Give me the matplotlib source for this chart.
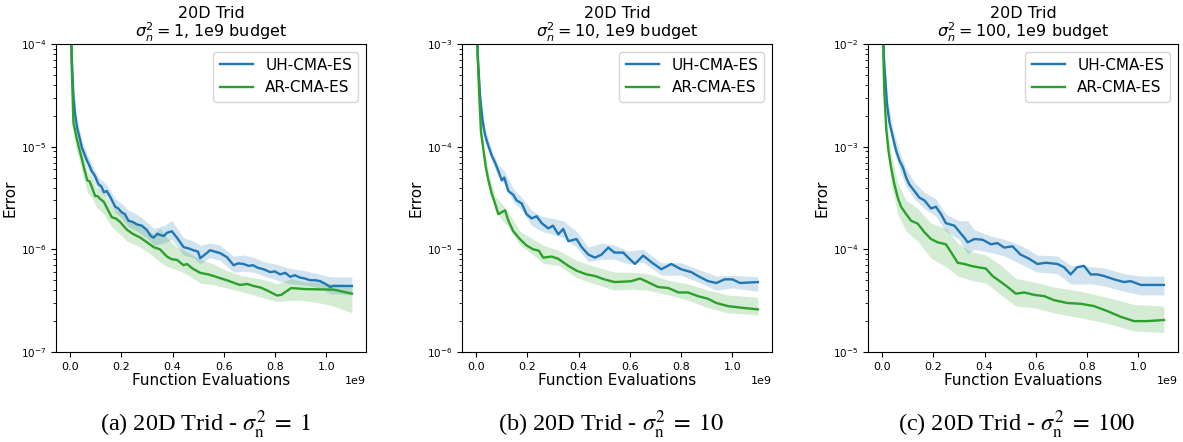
import matplotlib
matplotlib.use("Agg")
import matplotlib.pyplot as plt

# ---- data (x in units of 1e9 function evaluations) ----
noise_levels = ["1", "10", "100"]
caption_tags = ["(a)", "(b)", "(c)"]
y_limits = [(1e-7, 1e-4), (1e-6, 1e-3), (1e-5, 1e-2)]

# panel (a): sigma^2 = 1
uh1_x = [0.0, 0.006, 0.013, 0.019, 0.028, 0.038, 0.046, 0.056, 0.065, 0.076, 0.084, 0.097,
         0.111, 0.122, 0.132, 0.143, 0.158, 0.176, 0.188, 0.201, 0.214, 0.228, 0.244, 0.261,
         0.28, 0.299, 0.315, 0.326, 0.341, 0.351, 0.366, 0.378, 0.397, 0.417, 0.443, 0.463,
         0.481, 0.499, 0.508, 0.529, 0.546, 0.565, 0.585, 0.612, 0.638, 0.656, 0.677, 0.697,
         0.715, 0.733, 0.755, 0.781, 0.799, 0.82, 0.84, 0.859, 0.877, 0.898, 0.916, 0.937,
         0.957, 0.976, 0.997, 1.015, 1.028, 1.1]
uh1_y = [1e-3, 8e-5, 3.1e-5, 2.1e-5, 1.5e-5, 1.2e-5, 9.8e-6, 8.5e-6, 7.4e-6, 6.5e-6, 5.8e-6, 5.2e-6,
         4.3e-6, 4.1e-6, 3.6e-6, 3.7e-6, 3.2e-6, 2.6e-6, 2.5e-6, 2.3e-6, 2.2e-6, 1.9e-6, 1.85e-6, 1.75e-6,
         1.7e-6, 1.55e-6, 1.35e-6, 1.3e-6, 1.42e-6, 1.38e-6, 1.35e-6, 1.45e-6, 1.5e-6, 1.3e-6, 1.05e-6, 1.02e-6,
         9.8e-7, 9.5e-7, 8.2e-7, 9.0e-7, 9.8e-7, 9.5e-7, 9.2e-7, 8.4e-7, 7.0e-7, 7.3e-7, 7.2e-7, 6.9e-7,
         7.0e-7, 6.6e-7, 6.4e-7, 6.0e-7, 6.1e-7, 5.7e-7, 5.9e-7, 5.4e-7, 5.6e-7, 5.3e-7, 5.2e-7, 5.0e-7,
         5.0e-7, 4.9e-7, 4.6e-7, 4.3e-7, 4.4e-7, 4.4e-7]
uh1_band_x = [0.0, 0.006, 0.013, 0.028, 0.046, 0.065, 0.084, 0.111, 0.143, 0.176, 0.201, 0.228,
              0.261, 0.299, 0.326, 0.366, 0.397, 0.443, 0.481, 0.508, 0.546, 0.585, 0.638, 0.677,
              0.715, 0.755, 0.82, 0.859, 0.916, 0.976, 1.015, 1.1]
uh1_lo = [8e-4, 6.5e-5, 2.6e-5, 1.3e-5, 8.5e-6, 6.4e-6, 5.0e-6, 3.8e-6, 3.2e-6, 2.3e-6, 2.0e-6, 1.65e-6,
          1.5e-6, 1.3e-6, 1.1e-6, 1.15e-6, 1.25e-6, 8.8e-7, 8.3e-7, 7.2e-7, 8.3e-7, 7.8e-7, 6.0e-7, 6.1e-7,
          6.0e-7, 5.5e-7, 4.9e-7, 4.6e-7, 4.5e-7, 4.2e-7, 3.7e-7, 3.6e-7]
uh1_hi = [1.2e-3, 1e-4, 3.8e-5, 1.8e-5, 1.15e-5, 8.6e-6, 6.8e-6, 5.0e-6, 4.3e-6, 3.1e-6, 2.8e-6, 2.4e-6,
          2.2e-6, 1.85e-6, 1.6e-6, 1.7e-6, 1.9e-6, 1.3e-6, 1.2e-6, 1.1e-6, 1.15e-6, 1.1e-6, 8.6e-7, 8.8e-7,
          8.4e-7, 7.6e-7, 7.0e-7, 6.5e-7, 6.2e-7, 5.7e-7, 5.4e-7, 5.4e-7]

ar1_x = [0.0, 0.006, 0.013, 0.026, 0.036, 0.046, 0.056, 0.067, 0.076, 0.084, 0.098, 0.107,
         0.117, 0.132, 0.143, 0.163, 0.178, 0.195, 0.222, 0.244, 0.274, 0.305, 0.326, 0.351,
         0.378, 0.397, 0.417, 0.443, 0.456, 0.478, 0.508, 0.539, 0.56, 0.59, 0.612, 0.641,
         0.663, 0.692, 0.715, 0.743, 0.767, 0.808, 0.824, 0.863, 0.916, 1.028, 1.1]
ar1_y = [8e-4, 6.5e-5, 1.7e-5, 1.2e-5, 9.5e-6, 7.6e-6, 6.0e-6, 4.7e-6, 4.6e-6, 4.1e-6, 3.3e-6, 3.3e-6,
         3.1e-6, 2.9e-6, 2.55e-6, 2.05e-6, 2.0e-6, 1.85e-6, 1.55e-6, 1.42e-6, 1.3e-6, 1.15e-6, 1.05e-6, 1.0e-6,
         8.5e-7, 8.0e-7, 7.9e-7, 7.0e-7, 7.2e-7, 6.5e-7, 5.9e-7, 5.7e-7, 5.5e-7, 5.2e-7, 5.0e-7, 4.7e-7,
         4.5e-7, 4.6e-7, 4.4e-7, 4.25e-7, 4.0e-7, 3.55e-7, 3.6e-7, 4.2e-7, 4.1e-7, 4.05e-7, 3.7e-7]
ar1_band_x = [0.0, 0.006, 0.013, 0.026, 0.046, 0.067, 0.084, 0.102, 0.132, 0.163, 0.195, 0.222,
              0.274, 0.326, 0.351, 0.378, 0.417, 0.456, 0.508, 0.56, 0.612, 0.663, 0.715, 0.767,
              0.808, 0.863, 0.916, 0.977, 1.028, 1.1]
ar1_lo = [6e-4, 5e-5, 1.3e-5, 9.0e-6, 5.8e-6, 3.6e-6, 3.2e-6, 2.6e-6, 2.2e-6, 1.65e-6, 1.4e-6, 1.2e-6,
          1.05e-6, 8.5e-7, 7.5e-7, 6.8e-7, 6.3e-7, 5.7e-7, 4.7e-7, 4.5e-7, 4.2e-7, 3.9e-7, 3.6e-7, 3.3e-7,
          3.1e-7, 3.2e-7, 3.15e-7, 3.0e-7, 2.8e-7, 2.4e-7]
ar1_hi = [1e-3, 8e-5, 2.0e-5, 1.4e-5, 9.0e-6, 5.8e-6, 5.0e-6, 4.0e-6, 3.5e-6, 2.6e-6, 2.3e-6, 2.0e-6,
          1.7e-6, 1.4e-6, 1.6e-6, 1.3e-6, 1.05e-6, 9.5e-7, 8.0e-7, 7.2e-7, 6.2e-7, 5.6e-7, 5.3e-7, 5.0e-7,
          4.6e-7, 5.2e-7, 4.8e-7, 4.8e-7, 4.6e-7, 4.5e-7]

# panel (b): sigma^2 = 10
uh2_x = [0.0, 0.006, 0.016, 0.025, 0.035, 0.045, 0.061, 0.074, 0.087, 0.1, 0.11, 0.126,
         0.145, 0.158, 0.178, 0.197, 0.217, 0.236, 0.256, 0.282, 0.3, 0.321, 0.34, 0.36,
         0.392, 0.412, 0.438, 0.464, 0.49, 0.516, 0.54, 0.574, 0.594, 0.62, 0.652, 0.684,
         0.723, 0.762, 0.8, 0.84, 0.866, 0.905, 0.938, 0.97, 1.0, 1.03, 1.1]
uh2_y = [1e-2, 8e-4, 3.0e-4, 1.8e-4, 1.3e-4, 1.07e-4, 8.2e-5, 7.0e-5, 5.8e-5, 4.7e-5, 5.0e-5, 3.7e-5,
         3.4e-5, 3.0e-5, 2.8e-5, 2.2e-5, 2.0e-5, 2.1e-5, 1.8e-5, 1.6e-5, 1.7e-5, 1.4e-5, 1.58e-5, 1.2e-5,
         1.26e-5, 1.05e-5, 8.9e-6, 8.3e-6, 8.9e-6, 1.04e-5, 9.3e-6, 9.3e-6, 8.3e-6, 7.2e-6, 8.7e-6, 7.5e-6,
         6.4e-6, 7.2e-6, 6.4e-6, 6.0e-6, 5.5e-6, 4.9e-6, 4.7e-6, 5.1e-6, 5.1e-6, 4.7e-6, 4.8e-6]
uh2_band_x = [0.0, 0.006, 0.016, 0.035, 0.061, 0.087, 0.11, 0.145, 0.178, 0.217, 0.256, 0.3,
              0.34, 0.392, 0.438, 0.49, 0.54, 0.594, 0.652, 0.723, 0.8, 0.866, 0.938, 1.0, 1.1]
uh2_lo = [8e-3, 6.5e-4, 2.6e-4, 1.15e-4, 7.2e-5, 5.1e-5, 4.3e-5, 2.9e-5, 2.4e-5, 1.7e-5, 1.5e-5, 1.4e-5,
          1.3e-5, 1.05e-5, 7.6e-6, 8.0e-6, 8.0e-6, 7.2e-6, 7.5e-6, 5.6e-6, 5.6e-6, 4.8e-6, 4.0e-6, 4.2e-6, 3.9e-6]
uh2_hi = [1.2e-2, 1e-3, 3.5e-4, 1.5e-4, 9.4e-5, 6.6e-5, 5.8e-5, 3.9e-5, 3.2e-5, 2.4e-5, 2.1e-5, 2.0e-5,
          1.9e-5, 1.5e-5, 1.05e-5, 1.15e-5, 1.1e-5, 9.6e-6, 1.0e-5, 7.4e-6, 7.4e-6, 6.4e-6, 5.5e-6, 5.6e-6, 5.4e-6]

ar2_x = [0.0, 0.006, 0.012, 0.019, 0.029, 0.038, 0.048, 0.061, 0.074, 0.087, 0.1, 0.113,
         0.126, 0.145, 0.171, 0.197, 0.223, 0.245, 0.262, 0.295, 0.32, 0.36, 0.392, 0.431,
         0.464, 0.5, 0.54, 0.58, 0.606, 0.64, 0.67, 0.71, 0.75, 0.79, 0.827, 0.866,
         0.905, 0.938, 0.983, 1.035, 1.1]
ar2_y = [1e-2, 8e-4, 3.3e-4, 1.4e-4, 9.1e-5, 6.3e-5, 4.7e-5, 3.5e-5, 2.8e-5, 2.2e-5, 2.3e-5, 2.4e-5,
         1.9e-5, 1.5e-5, 1.26e-5, 1.09e-5, 1.0e-5, 9.7e-6, 8.3e-6, 8.5e-6, 8.1e-6, 6.9e-6, 6.2e-6, 5.7e-6,
         5.5e-6, 5.1e-6, 4.8e-6, 4.85e-6, 4.9e-6, 5.2e-6, 4.8e-6, 4.3e-6, 4.2e-6, 3.8e-6, 3.8e-6, 3.5e-6,
         3.3e-6, 3.0e-6, 2.8e-6, 2.7e-6, 2.6e-6]
ar2_band_x = [0.0, 0.006, 0.012, 0.029, 0.048, 0.074, 0.1, 0.126, 0.171, 0.223, 0.262, 0.32,
              0.392, 0.464, 0.54, 0.606, 0.67, 0.75, 0.827, 0.905, 0.983, 1.1]
ar2_lo = [8e-3, 6e-4, 2.8e-4, 7.8e-5, 4.0e-5, 2.4e-5, 1.95e-5, 1.65e-5, 1.1e-5, 8.8e-6, 7.3e-6, 7.0e-6,
          5.3e-6, 4.6e-6, 4.0e-6, 4.1e-6, 4.0e-6, 3.6e-6, 3.2e-6, 2.7e-6, 2.4e-6, 2.3e-6]
ar2_hi = [1.2e-2, 9e-4, 3.9e-4, 1.05e-4, 5.6e-5, 3.3e-5, 2.8e-5, 2.3e-5, 1.5e-5, 1.25e-5, 1.1e-5, 9.8e-6,
          7.8e-6, 6.8e-6, 6.0e-6, 6.0e-6, 5.8e-6, 5.0e-6, 4.6e-6, 4.0e-6, 3.6e-6, 3.4e-6]

# panel (c): sigma^2 = 100
uh3_x = [0.0, 0.006, 0.012, 0.019, 0.029, 0.042, 0.055, 0.068, 0.081, 0.094, 0.106, 0.126,
         0.145, 0.165, 0.191, 0.21, 0.23, 0.249, 0.282, 0.3, 0.321, 0.334, 0.36, 0.392,
         0.425, 0.45, 0.477, 0.509, 0.54, 0.574, 0.606, 0.639, 0.684, 0.71, 0.736, 0.762,
         0.788, 0.814, 0.84, 0.866, 0.905, 0.944, 0.97, 1.01, 1.1]
uh3_y = [1e-1, 8e-3, 4.8e-3, 2.6e-3, 1.7e-3, 1.24e-3, 9.1e-4, 7.3e-4, 6.3e-4, 5.0e-4, 4.3e-4, 3.7e-4,
         3.2e-4, 3.0e-4, 2.5e-4, 2.6e-4, 2.2e-4, 1.8e-4, 1.7e-4, 1.5e-4, 1.3e-4, 1.17e-4, 1.26e-4, 1.24e-4,
         1.12e-4, 1.15e-4, 1.04e-4, 1.07e-4, 8.9e-5, 8.1e-5, 7.2e-5, 7.4e-5, 7.2e-5, 6.7e-5, 5.7e-5, 6.7e-5,
         6.9e-5, 5.7e-5, 5.7e-5, 5.5e-5, 5.1e-5, 4.8e-5, 4.9e-5, 4.5e-5, 4.5e-5]
uh3_band_x = [0.0, 0.006, 0.019, 0.042, 0.068, 0.094, 0.126, 0.165, 0.21, 0.249, 0.3, 0.334,
              0.36, 0.425, 0.477, 0.54, 0.606, 0.684, 0.736, 0.814, 0.866, 0.944, 1.01, 1.1]
uh3_lo = [8e-2, 6.5e-3, 2.1e-3, 1.0e-3, 6.0e-4, 4.1e-4, 3.1e-4, 2.5e-4, 2.1e-4, 1.5e-4, 1.25e-4, 9.0e-5,
          1.0e-4, 9.3e-5, 8.6e-5, 7.2e-5, 6.0e-5, 5.8e-5, 4.6e-5, 4.6e-5, 4.4e-5, 3.9e-5, 3.6e-5, 3.6e-5]
uh3_hi = [1.2e-1, 1e-2, 3.2e-3, 1.5e-3, 8.9e-4, 6.1e-4, 4.5e-4, 3.6e-4, 3.1e-4, 2.2e-4, 1.9e-4, 1.9e-4,
          1.55e-4, 1.35e-4, 1.25e-4, 1.1e-4, 8.8e-5, 8.6e-5, 7.0e-5, 6.8e-5, 6.6e-5, 5.8e-5, 5.5e-5, 5.5e-5]

ar3_x = [0.0, 0.006, 0.009, 0.016, 0.025, 0.035, 0.048, 0.061, 0.074, 0.094, 0.113, 0.139,
         0.165, 0.191, 0.217, 0.249, 0.275, 0.295, 0.321, 0.347, 0.373, 0.405, 0.431, 0.464,
         0.49, 0.522, 0.555, 0.594, 0.633, 0.671, 0.723, 0.775, 0.827, 0.88, 0.932, 0.983,
         1.035, 1.1]
ar3_y = [1e-1, 6e-3, 3.3e-3, 1.5e-3, 9.1e-4, 6.3e-4, 4.3e-4, 3.2e-4, 2.6e-4, 2.2e-4, 1.9e-4, 1.78e-4,
         1.47e-4, 1.26e-4, 1.17e-4, 1.12e-4, 8.9e-5, 7.4e-5, 7.2e-5, 6.9e-5, 6.7e-5, 6.5e-5, 5.5e-5, 4.8e-5,
         4.3e-5, 3.7e-5, 3.8e-5, 3.6e-5, 3.5e-5, 3.2e-5, 3.0e-5, 2.95e-5, 2.8e-5, 2.5e-5, 2.2e-5, 2.0e-5,
         2.0e-5, 2.05e-5]
ar3_band_x = [0.0, 0.006, 0.016, 0.035, 0.061, 0.094, 0.139, 0.191, 0.249, 0.295, 0.347, 0.405,
              0.464, 0.522, 0.594, 0.671, 0.775, 0.88, 0.983, 1.1]
ar3_lo = [7e-2, 5.5e-3, 1.1e-3, 4.5e-4, 2.2e-4, 1.5e-4, 1.2e-4, 8.2e-5, 6.8e-5, 5.5e-5, 5.0e-5, 4.7e-5,
          3.6e-5, 2.8e-5, 2.7e-5, 2.4e-5, 2.15e-5, 1.9e-5, 1.6e-5, 1.55e-5]
ar3_hi = [1.1e-1, 8.5e-3, 2.0e-3, 8.5e-4, 4.4e-4, 3.0e-4, 2.5e-4, 1.8e-4, 1.6e-4, 1.15e-4, 9.5e-5, 8.8e-5,
          7.0e-5, 5.2e-5, 4.8e-5, 4.3e-5, 3.9e-5, 3.4e-5, 2.9e-5, 2.8e-5]

panels = [
    (uh1_x, uh1_y, uh1_band_x, uh1_lo, uh1_hi, ar1_x, ar1_y, ar1_band_x, ar1_lo, ar1_hi),
    (uh2_x, uh2_y, uh2_band_x, uh2_lo, uh2_hi, ar2_x, ar2_y, ar2_band_x, ar2_lo, ar2_hi),
    (uh3_x, uh3_y, uh3_band_x, uh3_lo, uh3_hi, ar3_x, ar3_y, ar3_band_x, ar3_lo, ar3_hi),
]

BLUE = "#1f77b4"
GREEN = "#2ca02c"
SCALE = 1e9


def scaled(xs):
    return [v * SCALE for v in xs]


fig = plt.figure(figsize=(11.83, 4.42), dpi=100)
lefts = [56, 462, 868]

for i, (left, data) in enumerate(zip(lefts, panels)):
    ux, uy, ubx, ulo, uhi, ax_, ay, abx, alo, ahi = data
    ax = fig.add_axes([left / 1183, 1 - 352 / 442, 310 / 1183, 308 / 442])

    ax.fill_between(scaled(ubx), ulo, uhi, color=BLUE, alpha=0.2, linewidth=0)
    ax.fill_between(scaled(abx), alo, ahi, color=GREEN, alpha=0.2, linewidth=0)
    ax.plot(scaled(ux), uy, color=BLUE, lw=1.7, label="UH-CMA-ES")
    ax.plot(scaled(ax_), ay, color=GREEN, lw=1.7, label="AR-CMA-ES")

    ax.set_yscale("log")
    ax.set_ylim(*y_limits[i])
    ax.set_xlim(-0.055 * SCALE, 1.155 * SCALE)
    ax.set_xticks([v * SCALE for v in [0.0, 0.2, 0.4, 0.6, 0.8, 1.0]])
    ax.tick_params(axis="x", labelsize=8)
    ax.tick_params(axis="y", labelsize=7.5)
    ax.xaxis.get_offset_text().set_fontsize(8)

    ax.set_title(f"20D Trid\n$\\sigma_n^2 = {noise_levels[i]}$, 1e9 budget",
                 fontsize=11.5, pad=2, linespacing=1.0)
    ax.set_xlabel("Function Evaluations", fontsize=11, labelpad=1)
    ax.set_ylabel("Error", fontsize=11, labelpad=2)
    ax.legend(loc="upper right", fontsize=11, handlelength=2.2)

    cx = (left + 155 - 6) / 1183
    fig.text(cx, 0.038,
             f"{caption_tags[i]} 20D Trid - $\\sigma_{{\\rm n}}^2\\;=\\;{noise_levels[i]}$",
             ha="center", va="center", fontsize=17.5, family="Liberation Serif",
             math_fontfamily="stix")

fig.savefig("out.png", dpi=100)
